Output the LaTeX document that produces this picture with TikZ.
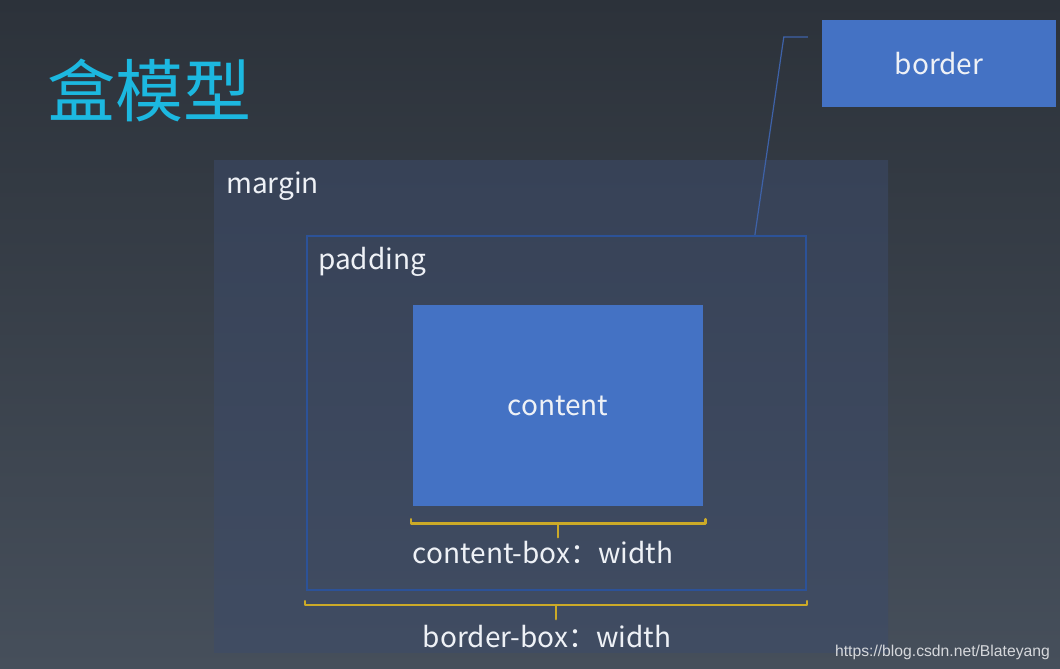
\documentclass[tikz,border=0pt]{standalone}
\usepackage{fontspec}
\setmainfont{Noto Sans CJK SC}
\newfontfamily\urlfont{Liberation Sans}
\usetikzlibrary{positioning,calc}

\definecolor{bgtop}{RGB}{44,50,58}
\definecolor{bgbot}{RGB}{70,79,91}
\definecolor{margintop}{RGB}{55,66,87}
\definecolor{marginbot}{RGB}{64,76,98}
\definecolor{boxblue}{RGB}{68,114,196}
\definecolor{edgeblue}{RGB}{44,82,152}
\definecolor{linkblue}{RGB}{62,98,168}
\definecolor{titlecyan}{RGB}{28,184,224}
\definecolor{braceyellow}{RGB}{204,170,40}
\definecolor{textwhite}{RGB}{238,241,246}
\definecolor{urlgray}{RGB}{214,216,220}

\newcommand{\bigtxt}{\fontsize{28}{34}\selectfont}

\tikzset{
  solidbox/.style={fill=boxblue, draw=none, text=textwhite, font=\bigtxt},
  boxlabel/.style={anchor=base west, text=textwhite, font=\bigtxt, inner sep=0pt},
  widthlabel/.style={anchor=base, text=textwhite, font=\bigtxt, inner sep=0pt},
  brace/.style={draw=braceyellow, line width=2.6pt, line cap=round, line join=round}
}

\begin{document}
\begin{tikzpicture}[x=1pt,y=-1pt]
    % page background
    \shade[top color=bgtop, bottom color=bgbot] (0,0) rectangle (1060,669);

    % title
    \node[text=titlecyan, font=\fontsize{68}{80}\selectfont, inner sep=0pt] (title) at (149,90) {盒模型};

    % the nested boxes
    \node[shade, top color=margintop, bottom color=marginbot, minimum width=674, minimum height=492, inner sep=0pt] (margin) at (551,406) {};
    \node[draw=edgeblue, line width=2.2pt, minimum width=499, minimum height=354, inner sep=0pt] (padding) at (556.5,413) {};
    \node[solidbox, minimum width=290, minimum height=201, inner sep=0pt] (content) at (558,405.5) {content};
    \node[solidbox, minimum width=234, minimum height=87, inner sep=0pt] (border) at (939,63.5) {border};

    \node[boxlabel] (marginlbl) at (226,193) {margin};
    \node[boxlabel] (paddinglbl) at (318,269) {padding};

    % pointer from border to the edge of padding
    \coordinate (bend) at ($(border.west)+(-14,-26.5)$);
    \draw[linkblue, line width=1.2pt] (bend) -- ++(-24,0) -- ($(padding.north west)+(449,0)$);

    % content-box brace
    \coordinate (cbl) at ($(content.south west)+(-2,17)$);
    \coordinate (cbr) at ($(content.south east)+(2,17)$);
    \coordinate (cbm) at ($(cbl)!0.5!(cbr)$);
    \draw[brace] ($(cbl)+(0,-4)$) -- (cbl) -- (cbr) -- ++(0,-4);
    \draw[brace] (cbm) -- ++(0,14);
    \node[widthlabel] (cboxlbl) at ($(cbm)+(-15,40)$) {content-box：width};

    % border-box brace
    \coordinate (bbl) at ($(padding.south west)+(-1,14)$);
    \coordinate (bbr) at ($(padding.south east)+(0,14)$);
    \coordinate (bbm) at ($(bbl)!0.5!(bbr)$);
    \draw[brace] ($(bbl)+(0,-4)$) -- (bbl) -- (bbr) -- ++(0,-4);
    \draw[brace] (bbm) -- ++(0,14);
    \node[widthlabel] (bboxlbl) at ($(bbm)+(-9,42)$) {border-box：width};

    % watermark
    \node[anchor=base east, text=urlgray, font=\urlfont\fontsize{15.7}{18}\selectfont, inner sep=0pt] (url) at (1050,656) {https://blog.csdn.net/Blateyang};
\end{tikzpicture}
\end{document}
